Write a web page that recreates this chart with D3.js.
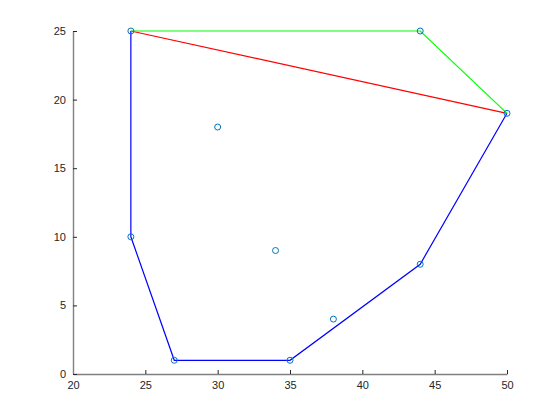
<!DOCTYPE html>
<html><head><meta charset="utf-8">
<script src="https://cdn.jsdelivr.net/npm/d3@7"></script>
<style>body{margin:0;background:#fff}svg{display:block}</style>
</head><body>
<svg id="c" width="560" height="420"></svg>
<script>
const pointsX = [24, 44, 50, 30, 34, 24, 38, 27, 35, 44];
const pointsY = [25, 25, 19, 18, 9, 10, 4, 1, 1, 8];
const blueX = [24, 24, 27, 35, 44, 50];
const blueY = [25, 10, 1, 1, 8, 19];
const redX = [24, 50];
const redY = [25, 19];
const greenX = [24, 44, 50];
const greenY = [25, 25, 19];
const xTicks = [20, 25, 30, 35, 40, 45, 50];
const yTicks = [0, 5, 10, 15, 20, 25];

const svg = d3.select("#c");
const L = 73, R = 507, T = 31, B = 374;
const x = d3.scaleLinear().domain([20, 50]).range([L, R]);
const y = d3.scaleLinear().domain([0, 25]).range([B, T]);

const xAxis = d3.axisBottom(x).tickValues(xTicks).tickSize(-4).tickPadding(7).tickSizeOuter(0);
const yAxis = d3.axisLeft(y).tickValues(yTicks).tickSize(-4).tickPadding(7).tickSizeOuter(0);

const gx = svg.append("g").attr("transform", `translate(0,${B})`).call(xAxis);
const gy = svg.append("g").attr("transform", `translate(${L},0)`).call(yAxis);
[gx, gy].forEach(g => {
  g.select(".domain").attr("stroke", "#808080").attr("stroke-width", 1.4);
  g.selectAll(".tick line").attr("stroke", "#262626").attr("stroke-width", 1);
  g.selectAll(".tick text").attr("fill", "#262626").attr("font-family", "Liberation Sans, Arial, sans-serif").attr("font-size", 11);
});

const line = d3.line().x(d => x(d[0])).y(d => y(d[1]));
const mk = (xs, ys) => xs.map((v, i) => [v, ys[i]]);
svg.append("path").datum(mk(blueX, blueY)).attr("d", line).attr("fill", "none").attr("stroke", "#0000ff").attr("stroke-width", 1.2);
svg.append("path").datum(mk(redX, redY)).attr("d", line).attr("fill", "none").attr("stroke", "#ff0000").attr("stroke-width", 1.2);
svg.append("path").datum(mk(greenX, greenY)).attr("d", line).attr("fill", "none").attr("stroke", "#00ff00").attr("stroke-width", 1.2);

svg.selectAll("circle.p").data(mk(pointsX, pointsY)).enter().append("circle")
  .attr("class", "p").attr("cx", d => x(d[0])).attr("cy", d => y(d[1])).attr("r", 3)
  .attr("fill", "none").attr("stroke", "#0072BD").attr("stroke-width", 1);
</script>
</body></html>
